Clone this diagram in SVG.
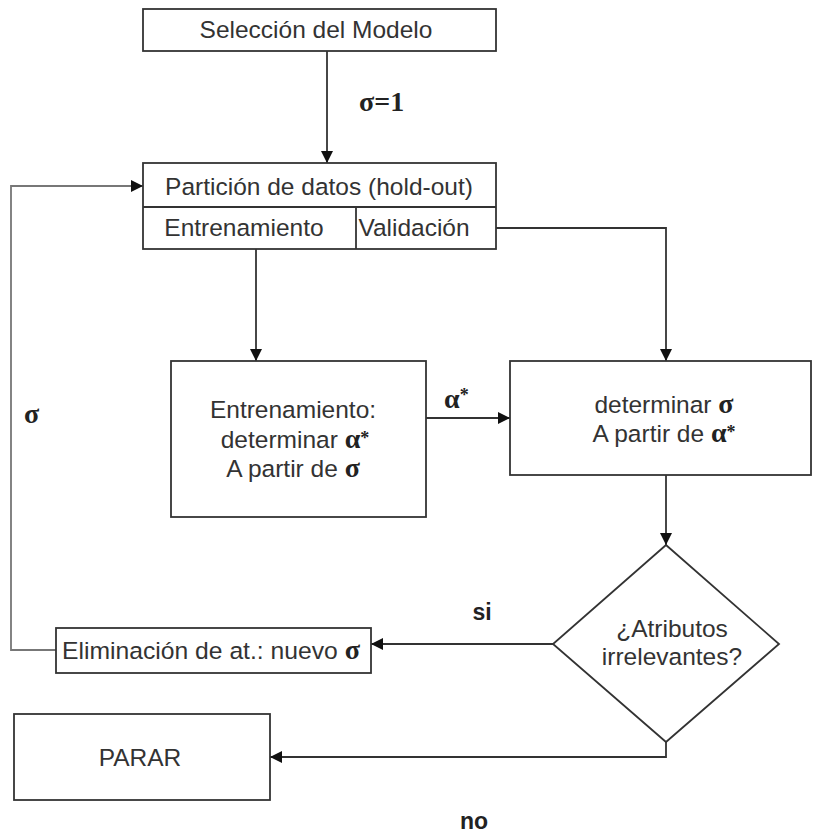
<svg xmlns="http://www.w3.org/2000/svg" width="813" height="834" viewBox="0 0 813 834">
<style>
.box{fill:#fff;stroke:#333;stroke-width:1.8}
.ln{fill:none;stroke:#333;stroke-width:1.8}
.t{font-family:"Liberation Sans",Arial,sans-serif;font-size:24.5px;fill:#333;text-anchor:middle}
.g{font-family:"Liberation Serif","Times New Roman",serif;font-weight:bold;fill:#222;font-size:28px}
.s{font-size:18px}
.b{font-family:"Liberation Sans",Arial,sans-serif;font-weight:bold;font-size:23px;fill:#222;text-anchor:middle}
</style>
<defs>
<marker id="ah" viewBox="0 0 12 12" refX="12" refY="6" markerWidth="12" markerHeight="12" markerUnits="userSpaceOnUse" orient="auto">
<path d="M0,0 L12,6 L0,12 Z" fill="#111"/>
</marker>
</defs>
<rect width="813" height="834" fill="#fff"/>
<g id="connectors">
<path class="ln" d="M327,51 V163" marker-end="url(#ah)"/>
<path class="ln" d="M256,249 V361" marker-end="url(#ah)"/>
<path class="ln" d="M496,228 H666 V361" marker-end="url(#ah)"/>
<path class="ln" d="M426,418 H510" marker-end="url(#ah)"/>
<path class="ln" d="M666,475 V545" marker-end="url(#ah)"/>
<path class="ln" d="M553,644 H371" marker-end="url(#ah)"/>
<path class="ln" d="M666,742 V757 H270" marker-end="url(#ah)"/>
<path class="ln" d="M56,650 H11 V186 H143" marker-end="url(#ah)" style="stroke:#777"/>
<text class="g" x="359" y="111">σ=1</text>
<text class="g" x="444" y="408">α<tspan class="s" dy="-7">*</tspan></text>
<text class="g" x="24" y="423">σ</text>
<text class="b" x="482" y="620">si</text>
<text class="b" x="474" y="829">no</text>
</g>
<g id="seleccion">
<rect class="box" x="143" y="9" width="353" height="42"/>
<text class="t" x="316" y="38">Selección del Modelo</text>
</g>
<g id="particion">
<rect class="box" x="143" y="163" width="353" height="86"/>
<line class="ln" x1="143" y1="207" x2="496" y2="207"/>
<line class="ln" x1="356" y1="207" x2="356" y2="249"/>
<text class="t" x="319" y="195">Partición de datos (hold-out)</text>
<text class="t" x="244" y="236">Entrenamiento</text>
<text class="t" x="414" y="236">Validación</text>
</g>
<g id="entrenamiento">
<rect class="box" x="171" y="361" width="255" height="156"/>
<text class="t" x="293" y="418">Entrenamiento:</text>
<text class="t" x="295" y="448">determinar <tspan class="g">α<tspan class="s" dy="-4">*</tspan></tspan></text>
<text class="t" x="293" y="477">A partir de <tspan class="g">σ</tspan></text>
</g>
<g id="determinar">
<rect class="box" x="510" y="361" width="301" height="114"/>
<text class="t" x="664" y="413">determinar <tspan class="g">σ</tspan></text>
<text class="t" x="664" y="442">A partir de <tspan class="g">α<tspan class="s" dy="-4">*</tspan></tspan></text>
</g>
<g id="decision">
<polygon class="box" points="666,545 779,644 666,742 553,644"/>
<text class="t" x="672" y="637">¿Atributos</text>
<text class="t" x="672" y="665">irrelevantes?</text>
</g>
<g id="eliminacion">
<rect class="box" x="56" y="628" width="315" height="45"/>
<text class="t" x="211" y="659" textLength="298" lengthAdjust="spacingAndGlyphs">Eliminación de at.: nuevo <tspan class="g">σ</tspan></text>
</g>
<g id="parar">
<rect class="box" x="14" y="714" width="256" height="86"/>
<text class="t" x="140" y="766">PARAR</text>
</g>
</svg>
